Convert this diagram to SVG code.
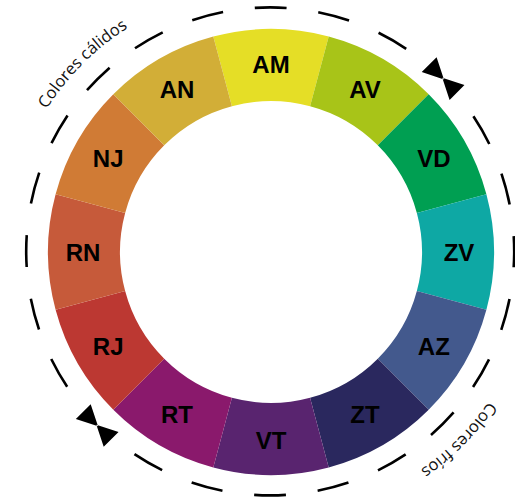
<svg xmlns="http://www.w3.org/2000/svg" xmlns:xlink="http://www.w3.org/1999/xlink" width="515" height="501" viewBox="0 0 515 501">
  <style>
    .lbl { font-family: "Liberation Sans", Arial, sans-serif; font-weight: bold; font-size: 24px; fill: #000; text-anchor: middle; }
    .arc-txt { font-family: "Open Sans", "Noto Sans", sans-serif; font-size: 16.5px; fill: #111; }
    .ring-dash { fill: none; stroke: #000; stroke-width: 2.6; }
    .mark { fill: #000; }
    .am { fill: #E5DE26; } .av { fill: #A8C418; } .vd { fill: #009F52; } .zv { fill: #0EA8A4; }
    .az { fill: #43598D; } .zt { fill: #2A285E; } .vt { fill: #59246F; } .rt { fill: #8A196C; }
    .rj { fill: #BC3832; } .rn { fill: #C65A3A; } .nj { fill: #D07B35; } .an { fill: #D2AE37; }
  </style>
  <defs>
    <!-- one 30-degree ring sector, centred on the top direction -->
    <path id="seg" d="M -57.717 -215.401 A 223 223 0 0 1 57.717 -215.401 L 39.082 -145.855 A 151 151 0 0 0 -39.082 -145.855 Z"/>
    <!-- bow-tie divider: two triangles meeting tip to tip -->
    <path id="bowtie" d="M -19.7 -10.5 L 1.2 0 L -19.7 10.5 Z M 19.7 -10.5 L -1.2 0 L 19.7 10.5 Z"/>
    <!-- text baselines (clockwise half circles) -->
    <path id="arcTop" d="M 5.2 251.4 A 265 265 0 0 1 535.2 251.4"/>
    <path id="arcBottom" d="M 535.2 251.4 A 265 265 0 0 1 5.2 251.4"/>
  </defs>

  <!-- dashed outer circle; no dash at the two divider positions -->
  <g id="connectors">
    <circle class="ring-dash" cx="270.2" cy="251.4" r="244"
      stroke-dasharray="31.94 31.94 31.94 31.94 31.94 31.94 31.94 31.94 31.94 31.94 31.94 31.94 31.94 31.94 31.94 31.94 31.94 95.82 31.94 31.94 31.94 31.94"
      stroke-dashoffset="15.97"/>
    <use href="#bowtie" class="mark" transform="translate(443.1 78.6) rotate(45)"/>
    <use href="#bowtie" class="mark" transform="translate(97.2 425.5) rotate(45)"/>
  </g>

  <g id="AM"><use href="#seg" class="am" transform="translate(271 252) rotate(0)"/><text class="lbl" x="271" y="72.6">AM</text></g>
  <g id="AV"><use href="#seg" class="av" transform="translate(271 252) rotate(30)"/><text class="lbl" x="365" y="97.8">AV</text></g>
  <g id="VD"><use href="#seg" class="vd" transform="translate(271 252) rotate(60)"/><text class="lbl" x="433.8" y="166.6">VD</text></g>
  <g id="ZV"><use href="#seg" class="zv" transform="translate(271 252) rotate(90)"/><text class="lbl" x="459" y="260.6">ZV</text></g>
  <g id="AZ"><use href="#seg" class="az" transform="translate(271 252) rotate(120)"/><text class="lbl" x="433.8" y="354.6">AZ</text></g>
  <g id="ZT"><use href="#seg" class="zt" transform="translate(271 252) rotate(150)"/><text class="lbl" x="365" y="423.4">ZT</text></g>
  <g id="VT"><use href="#seg" class="vt" transform="translate(271 252) rotate(180)"/><text class="lbl" x="271" y="448.6">VT</text></g>
  <g id="RT"><use href="#seg" class="rt" transform="translate(271 252) rotate(210)"/><text class="lbl" x="177" y="423.4">RT</text></g>
  <g id="RJ"><use href="#seg" class="rj" transform="translate(271 252) rotate(240)"/><text class="lbl" x="108.2" y="354.6">RJ</text></g>
  <g id="RN"><use href="#seg" class="rn" transform="translate(271 252) rotate(270)"/><text class="lbl" x="83" y="260.6">RN</text></g>
  <g id="NJ"><use href="#seg" class="nj" transform="translate(271 252) rotate(300)"/><text class="lbl" x="108.2" y="166.6">NJ</text></g>
  <g id="AN"><use href="#seg" class="an" transform="translate(271 252) rotate(330)"/><text class="lbl" x="177" y="97.8">AN</text></g>

  <g id="labels-arc">
    <text class="arc-txt" text-anchor="middle"><textPath href="#arcTop" startOffset="25%">Colores cálidos</textPath></text>
    <text class="arc-txt" text-anchor="middle"><textPath href="#arcBottom" startOffset="25%">Colores fríos</textPath></text>
  </g>
</svg>
